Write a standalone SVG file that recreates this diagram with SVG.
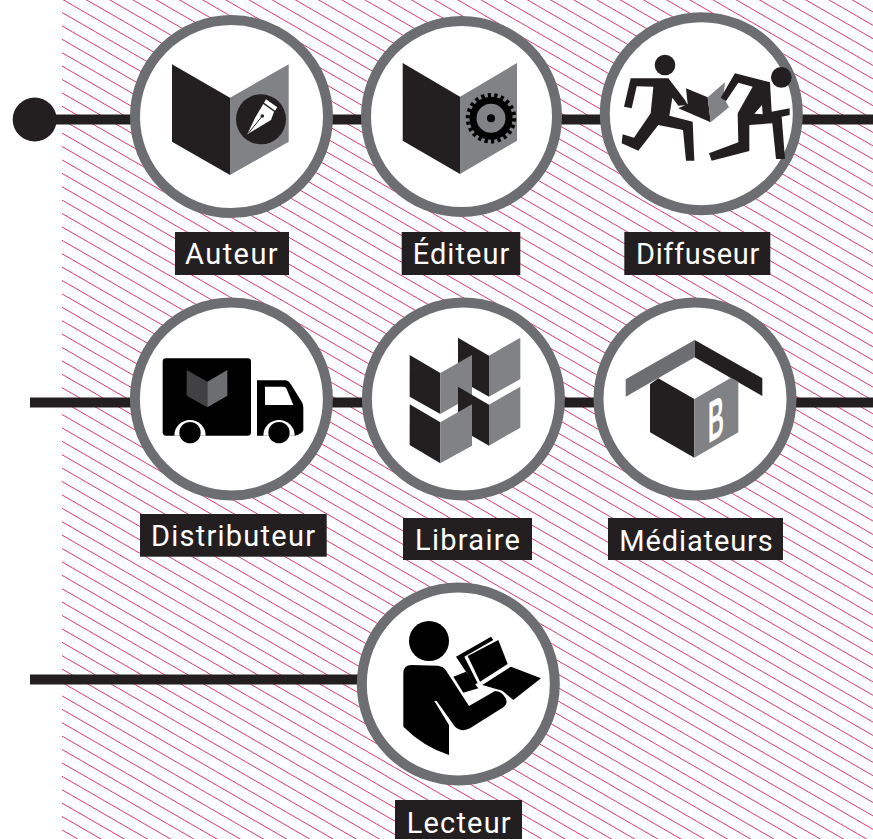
<svg xmlns="http://www.w3.org/2000/svg" width="873" height="839" viewBox="0 0 873 839">
<style>
.ring{fill:#fff;stroke:#6d6e71;stroke-width:10}
.k{fill:#231f20}.g{fill:#808285}.b{fill:#000}.w{fill:#fff}
.conn{stroke:#231f20;stroke-width:10;fill:none}
.lab{fill:#231f20}
.t{fill:#fff;font-family:Roboto,"Liberation Sans",sans-serif;font-size:29px}
.h{stroke:#d93a72;stroke-width:1;fill:none}
</style>
<defs>
<path id="l5" class="h" d="M62,0l811,468.4M62,13.4l811,468.4M62,26.8l811,468.4M62,40.2l811,468.4M62,53.6l811,468.4"/>
<g id="l20"><use href="#l5"/><use href="#l5" y="67"/><use href="#l5" y="134"/><use href="#l5" y="201"/></g>
</defs>
<g id="hatching" transform="translate(0,-496.7)">
<use href="#l20"/><use href="#l20" y="268"/><use href="#l20" y="536"/><use href="#l20" y="804"/><use href="#l20" y="1072"/>
</g>
<g id="connectors">
<path class="conn" d="M50,119.4H873M30,402.4H873M30,679.5H360"/>
<circle class="k" cx="34.7" cy="119.5" r="22"/>
</g>
<g id="auteur">
<circle class="ring" cx="231.5" cy="116.6" r="96.5"/>
<path class="k" d="M172,64.3L230,97.7V175L172,141.7Z"/>
<path class="g" d="M230,97.7L288.7,64.3V141.7L230,175Z"/>
<circle class="k" cx="261" cy="119.3" r="25"/>
<path class="w" d="M266,99.3L277.3,107.3L275,110.7L264,102.7Z"/>
<path class="w" d="M263.3,104L274,111.7L271,120L247.3,134.3L255,118Z"/>
<path d="M248.5,133L261.5,117" stroke="#231f20" stroke-width="1" fill="none"/>
<circle class="k" cx="262.3" cy="116" r="1.8"/>
<rect class="lab" x="175" y="232" width="114" height="43"/>
<text class="t" x="185" y="264" textLength="92.7">Auteur</text>
</g>
<g id="editeur">
<circle class="ring" cx="461.5" cy="116.6" r="95.5"/>
<path class="k" d="M402.7,63L460,96.7V174L402.7,140.7Z"/>
<path class="g" d="M460,96.7L517,63V140.7L460,174Z"/>
<circle cx="491" cy="118.3" r="18" fill="none" stroke="#000" stroke-width="7"/>
<circle cx="491" cy="118.3" r="23" fill="none" stroke="#000" stroke-width="4.5" pathLength="44" stroke-dasharray="1 1"/>
<circle class="b" cx="491" cy="118.3" r="4"/>
<rect class="lab" x="401.7" y="232" width="118.6" height="43"/>
<text class="t" x="412.7" y="264" textLength="96.6">Éditeur</text>
</g>
<g id="diffuseur">
<circle class="ring" cx="701.3" cy="113.7" r="96.5"/>
<g transform="translate(610,45) scale(.33333)">
<circle class="k" cx="165" cy="60" r="31"/>
<path class="k" d="M62,100L175,100L225,165L233,180L205,182L187,158L178,212L248,230L253,347L228,347L219,255L145,240L85,317L35,295L38,268L72,278L122,205L130,125L80,124L65,190L42,185Z"/>
<path class="k" d="M228,130L293,157L302,232L205,190L233,177Z"/>
<path class="g" d="M293,157L345,112L340,155L357,187L302,232Z"/>
<circle class="k" cx="514" cy="97" r="31"/>
<path class="k" d="M375,85L480,112L485,200L539,190L539,210L515,215L525,342L498,342L487,235L418,240L418,318L305,347L297,325L385,292L383,205L428,125L385,113L348,168L332,158Z"/>
<path class="w" d="M433,206L456,180L458,208Z"/>
</g>
<rect class="lab" x="624.3" y="232" width="146" height="43"/>
<text class="t" x="636" y="264" textLength="123.3">Diffuseur</text>
</g>
<g id="distributeur">
<circle class="ring" cx="231.4" cy="399" r="96.5"/>
<g transform="translate(120,290) scale(.33333)">
<rect class="b" x="128" y="205" width="265" height="232" rx="10"/>
<path class="b" d="M411,271H495Q505,271 512,282L545,335Q550,342 550,352V420Q550,430 525,437H411Z"/>
<path class="w" d="M435,290H490Q497,290 500,297L520,345H435Z"/>
<path fill="#414042" d="M200,240L262,275V352L200,317Z"/>
<path fill="#6d6e71" d="M262,275L322,240V317L262,352Z"/>
<path class="w" d="M163,437A47,47 0 1 1 257,437Z"/>
<path class="w" d="M430,437A47,47 0 1 1 524,437Z"/>
<circle class="b" cx="210" cy="428" r="32"/>
<circle class="b" cx="477" cy="428" r="32"/>
</g>
<rect class="lab" x="140" y="514" width="186.7" height="42.7"/>
<text class="t" x="151" y="546" textLength="164">Distributeur</text>
</g>
<g id="libraire">
<circle class="ring" cx="463.4" cy="399" r="96.5"/>
<g transform="translate(120,290) scale(.33333)">
<path class="k" d="M1014,143L1107,197V320L1014,267Z"/><path class="g" d="M1107,197L1201,143V267L1107,320Z"/>
<path class="k" d="M869,195L961,249V372L869,320Z"/><path class="g" d="M961,249L1056,195V318L961,372Z"/>
<path class="k" d="M1014,290L1107,344V467L1014,413Z"/><path class="g" d="M1107,344L1201,290V413L1107,467Z"/>
<path class="k" d="M869,343L961,397V520L869,465Z"/><path class="g" d="M961,397L1056,343V467L961,520Z"/>
</g>
<rect class="lab" x="403" y="518" width="129" height="42"/>
<text class="t" x="415" y="550" textLength="105">Libraire</text>
</g>
<g id="mediateurs">
<circle class="ring" cx="695" cy="399" r="96.5"/>
<g transform="translate(580,290) scale(.33333)">
<path fill="#6d6e71" d="M344,150V202L137,320V268Z"/>
<path class="k" d="M344,150L547,265V318L344,202Z"/>
<path class="k" d="M210,283L235,265L343,327V503L210,427Z"/>
<path class="g" d="M343,327L453,263L475,275V427L343,503Z"/>
</g>
<text transform="translate(708,443.5) skewY(-30) scale(.38,1)" fill="#fff" font-family="'Liberation Sans',sans-serif" font-weight="700" font-size="58">B</text>
<rect class="lab" x="608" y="518" width="175" height="42"/>
<text class="t" x="619.3" y="550.5" textLength="153.4">Médiateurs</text>
</g>
<g id="lecteur">
<circle class="ring" cx="458.3" cy="684" r="96.5"/>
<g transform="translate(395,630) scale(.33333)">
<circle class="b" cx="102" cy="33" r="60"/>
<path class="b" d="M25,130Q25,105 50,105L130,107Q145,110 152,120L222,228L300,183Q320,183 332,205Q340,222 325,232L225,295Q200,308 180,290L125,213L118,213L162,285V375Q85,350 25,290Z"/>
<path class="b" d="M183,80L288,20L295,30L208,80L248,160L238,163Z"/>
<path class="b" d="M218,78L310,30L338,102L255,155Z"/>
<path class="b" d="M348,110L438,145L355,210L322,182L262,165Z"/>
<path class="b" d="M175,140L213,125L250,175L205,188Z"/>
</g>
<rect class="lab" x="395" y="800" width="127" height="39"/>
<text class="t" x="406.7" y="833" textLength="104">Lecteur</text>
</g>
</svg>
